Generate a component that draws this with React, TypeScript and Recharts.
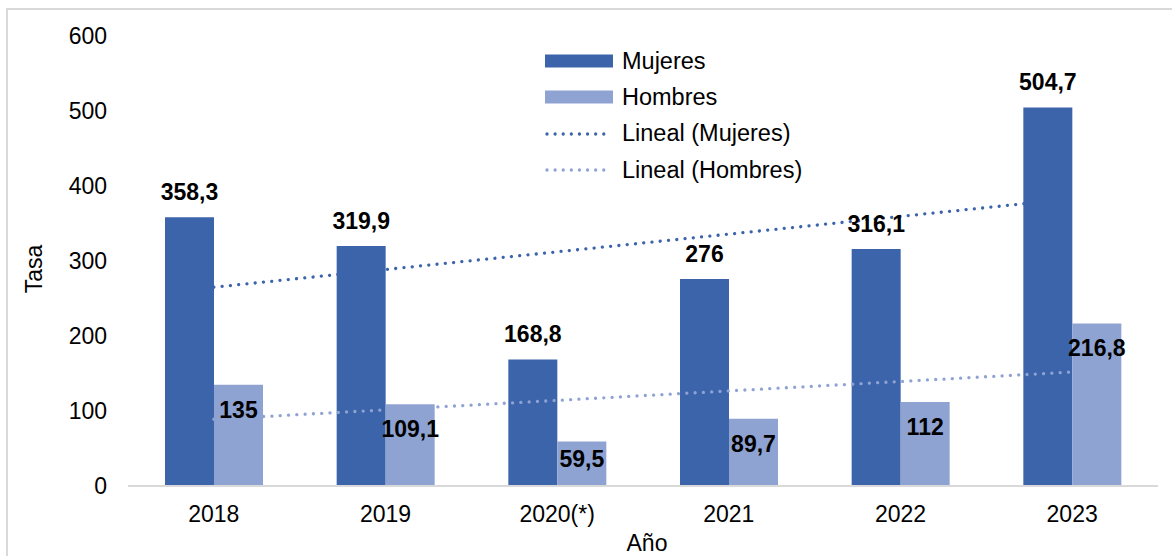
import React from "react";
import {
  ComposedChart,
  Bar,
  XAxis,
  YAxis,
  LabelList,
  ReferenceLine,
  Label,
} from "recharts";

const years = ["2018", "2019", "2020(*)", "2021", "2022", "2023"];
const mujeres = [358.3, 319.9, 168.8, 276, 316.1, 504.7];
const hombres = [135, 109.1, 59.5, 89.7, 112, 216.8];
// trend line ends (first and last year)
const trendMujeres = [265, 383];
const trendHombres = [89, 152];
const yTicks = [0, 100, 200, 300, 400, 500, 600];

const DARK = "#3c64ab";
const LIGHT = "#8fa3d3";
const FONT = "'Liberation Sans', Arial, sans-serif";

const chartData = years.map((y, i) => ({
  year: y,
  Mujeres: mujeres[i],
  Hombres: hombres[i],
}));

const fmt = (v: number | string) => String(v).replace(".", ",");

const legendItems = [
  { name: "Mujeres", color: DARK, kind: "bar" },
  { name: "Hombres", color: LIGHT, kind: "bar" },
  { name: "Lineal (Mujeres)", color: DARK, kind: "dot" },
  { name: "Lineal (Hombres)", color: LIGHT, kind: "dot" },
];

function ChartLegend() {
  return (
    <div style={{ fontFamily: FONT, fontSize: 23.5, color: "#000" }}>
      {legendItems.map((it) => (
        <div
          key={it.name}
          style={{ display: "flex", alignItems: "center", height: 36.3 }}
        >
          <svg width={68} height={14} style={{ marginRight: 9 }}>
            {it.kind === "bar" ? (
              <rect x={0} y={0.5} width={68} height={13} fill={it.color} />
            ) : (
              <line
                x1={2}
                y1={7}
                x2={66}
                y2={7}
                stroke={it.color}
                strokeWidth={3.3}
                strokeLinecap="round"
                strokeDasharray="0.01 8.1"
              />
            )}
          </svg>
          <span>{it.name}</span>
        </div>
      ))}
    </div>
  );
}

function HombresLabel(props: any) {
  const { x, y, width, height, value } = props;
  const base = Math.min(y + 33, y + height - 19);
  return (
    <text
      x={x + width / 2}
      y={base}
      textAnchor="middle"
      fontFamily={FONT}
      fontSize={23}
      fontWeight="bold"
      fill="#000"
    >
      {fmt(value)}
    </text>
  );
}

const trendStyle = {
  strokeWidth: 3.3,
  strokeLinecap: "round" as const,
  strokeDasharray: "0.01 8.3",
};

export default function App() {
  return (
    <div
      style={{
        position: "fixed",
        left: 0,
        top: 0,
        width: 1172,
        height: 556,
        background: "#fff",
        overflow: "hidden",
      }}
    >
      <div
        style={{
          position: "absolute",
          left: 6,
          top: 8,
          width: 1250,
          height: 700,
          border: "2px solid #d9d9d9",
        }}
      />
      <div style={{ position: "absolute", left: 0, top: 0 }}>
        <ComposedChart
          width={1172}
          height={556}
          data={chartData}
          margin={{ top: 36, right: 14, bottom: 0, left: 0 }}
          barGap={0}
          barSize={49}
          style={{ fontFamily: FONT }}
        >
          <XAxis
            dataKey="year"
            axisLine={{ stroke: "#d9d9d9", strokeWidth: 2 }}
            tickLine={false}
            tickSize={0}
            tickMargin={20}
            tick={{ fill: "#000", fontSize: 23, fontFamily: FONT }}
            height={70}
          >
            <Label
              content={() => (
                <text
                  x={647}
                  y={551}
                  textAnchor="middle"
                  fontFamily={FONT}
                  fontSize={23}
                  fill="#000"
                >
                  Año
                </text>
              )}
            />
          </XAxis>
          <YAxis
            width={128}
            domain={[0, 600]}
            ticks={yTicks}
            axisLine={false}
            tickLine={false}
            tickSize={0}
            tickMargin={21}
            tick={{ fill: "#000", fontSize: 23, fontFamily: FONT }}
          >
            <Label
              content={() => (
                <text
                  x={34}
                  y={269}
                  transform="rotate(-90 34 269)"
                  textAnchor="middle"
                  dominantBaseline="central"
                  fontFamily={FONT}
                  fontSize={23}
                  fill="#000"
                >
                  Tasa
                </text>
              )}
            />
          </YAxis>
          <Bar dataKey="Mujeres" fill={DARK} isAnimationActive={false}>
            <LabelList
              dataKey="Mujeres"
              position="top"
              offset={17}
              formatter={(v: any) => fmt(v)}
              style={{
                fill: "#000",
                fontSize: 23,
                fontWeight: "bold",
                fontFamily: FONT,
              }}
            />
          </Bar>
          <Bar dataKey="Hombres" fill={LIGHT} isAnimationActive={false}>
            <LabelList dataKey="Hombres" content={<HombresLabel />} />
          </Bar>
          <ReferenceLine
            segment={[
              { x: years[0], y: trendMujeres[0] },
              { x: years[years.length - 1], y: trendMujeres[1] },
            ]}
            stroke={DARK}
            {...trendStyle}
          />
          <ReferenceLine
            segment={[
              { x: years[0], y: trendHombres[0] },
              { x: years[years.length - 1], y: trendHombres[1] },
            ]}
            stroke={LIGHT}
            {...trendStyle}
          />
        </ComposedChart>
      </div>
      <div style={{ position: "absolute", left: 545, top: 43, width: 330 }}>
        <ChartLegend />
      </div>
    </div>
  );
}
